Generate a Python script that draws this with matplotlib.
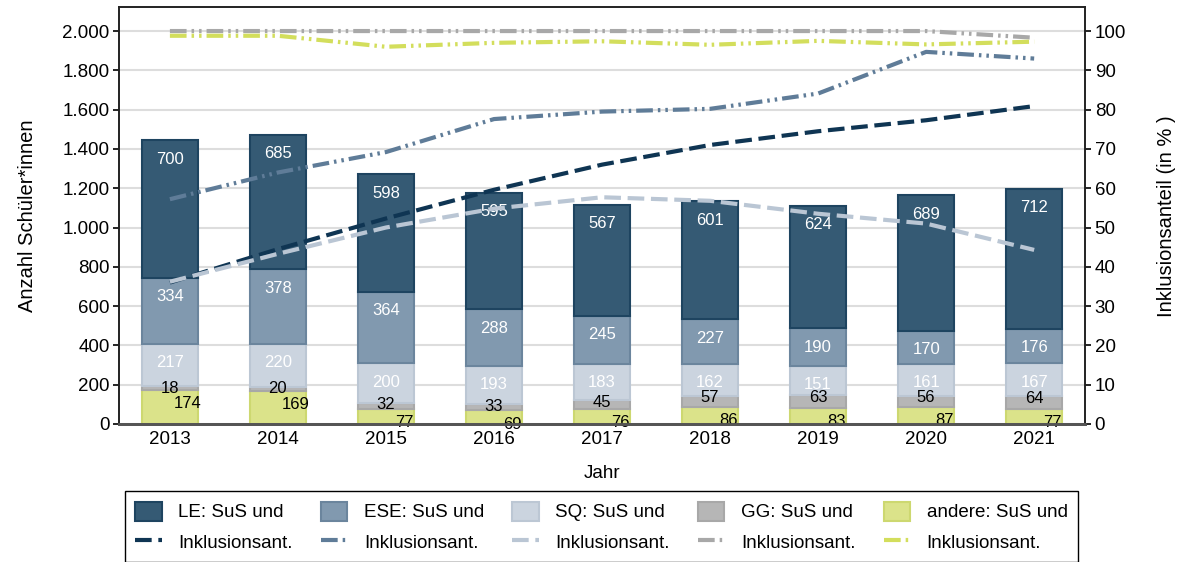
import matplotlib
matplotlib.use("Agg")
import matplotlib.pyplot as plt
from matplotlib.ticker import FuncFormatter

plt.rcParams['font.family'] = ['Liberation Sans', 'DejaVu Sans']
plt.rcParams['font.size'] = 13.5

# ====================
# Daten
# ====================
jahre = ['2013', '2014', '2015', '2016', '2017', '2018', '2019', '2020', '2021']

# Schüler*innen (gestapelt, von unten nach oben)
andere = [174, 169, 77, 69, 76, 86, 83, 87, 77]
gg = [18, 20, 32, 33, 45, 57, 63, 56, 64]
sq = [217, 220, 200, 193, 183, 162, 151, 161, 167]
ese = [334, 378, 364, 288, 245, 227, 190, 170, 176]
le = [700, 685, 598, 595, 567, 601, 624, 689, 712]

# Inklusionsanteil in %
inkl_le = [36.0, 44.5, 52.3, 59.6, 66.0, 71.0, 74.5, 77.3, 80.9]
inkl_ese = [57.2, 64.0, 69.2, 77.6, 79.5, 80.2, 84.1, 94.7, 93.0]
inkl_sq = [36.2, 43.3, 50.0, 54.8, 57.7, 56.8, 53.5, 51.0, 44.3]
inkl_gg = [100, 100, 100, 100, 100, 100, 100, 100, 98.3]
inkl_andere = [98.8, 98.8, 96.0, 97.0, 97.4, 96.5, 97.5, 96.6, 97.3]

# Farben: (Füllung, Rand, Linie)
farben = {
    'LE': ('#355a74', '#1e4460', '#0f3553'),
    'ESE': ('#8199af', '#6b859d', '#5f7c98'),
    'SQ': ('#cbd4df', '#bcc7d4', '#bac6d4'),
    'GG': ('#b6b6b6', '#a8a8a8', '#a8a8a8'),
    'andere': ('#dbe38a', '#cdd870', '#d3de5c'),
}

fig = plt.figure(figsize=(11.78, 5.62), dpi=100)
ax = fig.add_axes([0.1014, 0.2456, 0.8196, 0.7411])
ax2 = ax.twinx()

x = list(range(len(jahre)))
schichten = [
    ('andere', andere, 'black'),
    ('GG', gg, 'black'),
    ('SQ', sq, 'white'),
    ('ESE', ese, 'white'),
    ('LE', le, 'white'),
]

boden = [0] * len(jahre)
patches = {}
for name, werte, txtfarbe in schichten:
    fill, edge, _ = farben[name]
    b = ax.bar(x, werte, width=0.52, bottom=boden, color=fill,
               edgecolor=edge, linewidth=1.5, zorder=2)
    patches[name] = b
    oben = [u + w for u, w in zip(boden, werte)]
    if name == 'andere':
        versatz = (13, -10)
    elif name == 'GG':
        versatz = (0, -1.5)
    else:
        versatz = (0, -13.5)
    for xi, top, w in zip(x, oben, werte):
        ax.annotate(str(w), (xi, top), xytext=versatz, textcoords='offset points',
                    ha='center', va='center', color=txtfarbe, fontsize=12, zorder=3)
    boden = oben

# Linien
linien = {}
stil_strich = (0, (4, 1.6))
stil_punkt = (0, (4, 1.2, 0.6, 1.2, 0.6, 1.2))
for name, werte, stil in [
    ('LE', inkl_le, stil_strich),
    ('ESE', inkl_ese, stil_punkt),
    ('SQ', inkl_sq, stil_strich),
    ('GG', inkl_gg, stil_punkt),
    ('andere', inkl_andere, stil_punkt),
]:
    l, = ax2.plot(x, werte, color=farben[name][2], linewidth=3, linestyle=stil)
    linien[name] = l

# Achsen
ax.set_xlim(-0.467, 8.47)
ax.set_ylim(0, 2120)
ax2.set_ylim(0, 106)
ax.set_yticks(range(0, 2001, 200))
ax.yaxis.set_major_formatter(FuncFormatter(lambda v, p: f"{int(v):,}".replace(',', '.')))
ax2.set_yticks(range(0, 101, 10))
ax.set_xticks(x)
ax.set_xticklabels(jahre)
ax.tick_params(axis='x', length=0, pad=5, labelsize=13.5)
ax.tick_params(axis='y', length=4, width=1.2, labelsize=13.5, pad=3)
ax2.tick_params(axis='y', length=4, width=1.2, labelsize=13.5, pad=3)

ax.grid(axis='y', color='#dddddd', linewidth=1.5, zorder=0)
ax.set_axisbelow(True)

for a in (ax, ax2):
    for s in ('left', 'right', 'top'):
        a.spines[s].set_color('#222222')
        a.spines[s].set_linewidth(1.2)
    a.spines['bottom'].set_color('#555555')
    a.spines['bottom'].set_linewidth(2)

ax.set_xlabel('Jahr', fontsize=13.5, labelpad=12)
ax.set_ylabel('Anzahl Schüler*innen', fontsize=14.5, labelpad=18)
ax2.set_ylabel('Inklusionsanteil (in % )', fontsize=14.5, labelpad=22)

# Legende
handles = []
labels = []
for name, txt in [('LE', 'LE: SuS und'), ('ESE', 'ESE: SuS und'), ('SQ', 'SQ: SuS und'),
                  ('GG', 'GG: SuS und'), ('andere', 'andere: SuS und')]:
    handles += [patches[name][0], linien[name]]
    labels += [txt, 'Inklusionsant.']

fig.legend(handles, labels, loc='lower left', ncol=5, mode='expand',
           bbox_to_anchor=(125 / 1178, 0.0, 953 / 1178, 67 / 562),
           frameon=True, fancybox=False, edgecolor='black', framealpha=1,
           handlelength=1.4, handleheight=1.2, handletextpad=0.9,
           labelspacing=0.55, borderaxespad=0, borderpad=0.55, fontsize=13.5)

fig.savefig('out.png', dpi=100, facecolor='white')
